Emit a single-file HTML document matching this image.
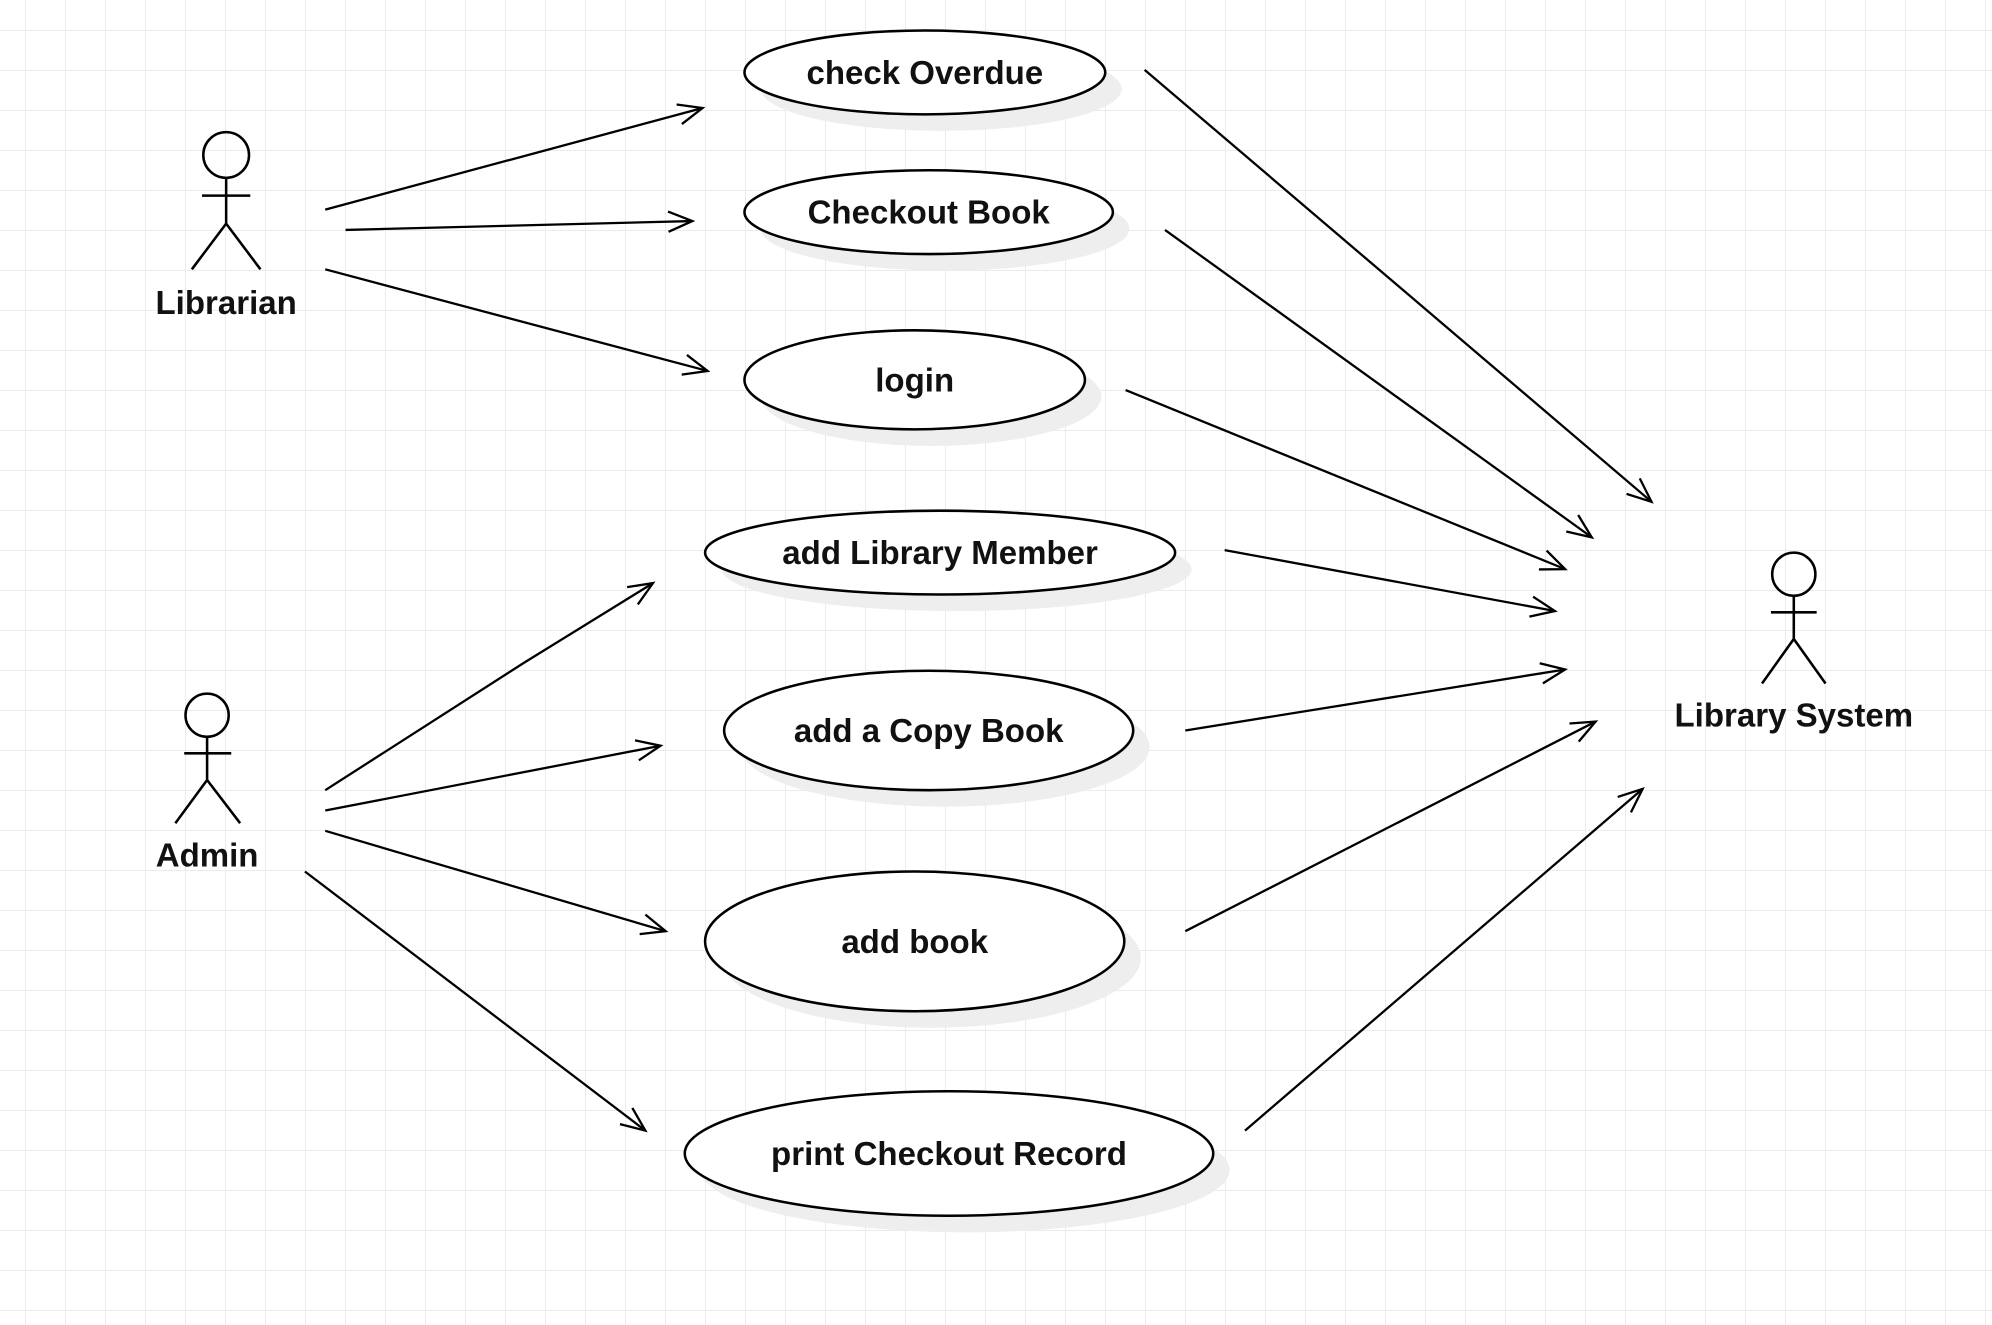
<!DOCTYPE html>
<html><head><meta charset="utf-8"><style>
html,body{margin:0;padding:0;background:#fff;}
body{width:1992px;height:1325px;overflow:hidden;
background-image:linear-gradient(to right,#ebebeb 1px,transparent 1px),linear-gradient(to bottom,#ebebeb 1px,transparent 1px);
background-size:40px 40px;background-position:25px 30px;}
svg{position:absolute;left:0;top:0;}
text{font-family:"Liberation Sans",sans-serif;font-weight:bold;font-size:26px;fill:#111;text-anchor:middle;dominant-baseline:central;}
</style></head><body>
<svg width="1992" height="1325" viewBox="0 0 1568 1043">
<defs>
<marker id="a" markerWidth="24" markerHeight="20" refX="21" refY="10" orient="auto" markerUnits="userSpaceOnUse">
<path d="M2,2 L21,10 L2,18" fill="none" stroke="#000" stroke-width="1.8"/>
</marker>
</defs>
<g fill="#eeeeee">
<ellipse cx="741" cy="70" rx="142" ry="33"/>
<ellipse cx="744" cy="180" rx="145" ry="33"/>
<ellipse cx="733" cy="312" rx="134" ry="39"/>
<ellipse cx="753" cy="448" rx="185" ry="33"/>
<ellipse cx="744" cy="588" rx="161" ry="47"/>
<ellipse cx="733" cy="754" rx="165" ry="55"/>
<ellipse cx="760" cy="921" rx="208" ry="49"/>
</g>
<g fill="#fff" stroke="#000" stroke-width="2">
<ellipse cx="728" cy="57" rx="142" ry="33"/>
<ellipse cx="731" cy="167" rx="145" ry="33"/>
<ellipse cx="720" cy="299" rx="134" ry="39"/>
<ellipse cx="740" cy="435" rx="185" ry="33"/>
<ellipse cx="731" cy="575" rx="161" ry="47"/>
<ellipse cx="720" cy="741" rx="165" ry="55"/>
<ellipse cx="747" cy="908" rx="208" ry="49"/>
</g>
<text x="728" y="57">check Overdue</text>
<text x="731" y="167">Checkout Book</text>
<text x="720" y="299">login</text>
<text x="740" y="435">add Library Member</text>
<text x="731" y="575">add a Copy Book</text>
<text x="720" y="741">add book</text>
<text x="747" y="908">print Checkout Record</text>
<g fill="none" stroke="#000" stroke-width="2">
<circle cx="178" cy="122" r="18"/><path d="M178,140V176M159,154H197M151,212L178,176L205,212"/>
<circle cx="163" cy="563" r="17"/><path d="M163,580V614M145,593H182M138,648L163,614L189,648"/>
<circle cx="1412" cy="452" r="17"/><path d="M1412,469V503M1394,482H1430M1387,538L1412,503L1437,538"/>
</g>
<text x="178" y="238">Librarian</text>
<text x="163" y="673">Admin</text>
<text x="1412" y="563">Library System</text>
<g stroke="#000" stroke-width="1.8" fill="none" marker-end="url(#a)">
<line x1="256" y1="165" x2="553" y2="85"/>
<line x1="272" y1="181" x2="545" y2="174"/>
<line x1="256" y1="212" x2="557" y2="292"/>
<polyline points="256,622 412,522 514,459"/>
<line x1="256" y1="638" x2="520" y2="587"/>
<line x1="256" y1="654" x2="524" y2="733"/>
<line x1="240" y1="686" x2="508" y2="890"/>
<line x1="901" y1="55" x2="1300" y2="395"/>
<line x1="917" y1="181" x2="1253" y2="423"/>
<line x1="886" y1="307" x2="1232" y2="448"/>
<line x1="964" y1="433" x2="1224" y2="481"/>
<line x1="933" y1="575" x2="1232" y2="527"/>
<line x1="933" y1="733" x2="1256" y2="568"/>
<line x1="980" y1="890" x2="1293" y2="621"/>
</g>
</svg>
</body></html>
